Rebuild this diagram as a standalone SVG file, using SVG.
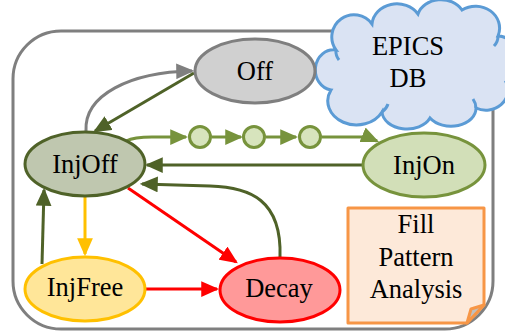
<svg xmlns="http://www.w3.org/2000/svg" width="505" height="331" viewBox="0 0 505 331">
<style>
text{font-family:"Liberation Serif","DejaVu Serif",serif;font-size:26.5px;fill:#000;text-anchor:middle}
.c{fill:none;stroke-width:3}
</style>
<defs>
<marker id="aGray" markerUnits="userSpaceOnUse" markerWidth="18" markerHeight="16" viewBox="0 0 16 14" refX="14" refY="7" orient="auto"><path d="M0,0L16,7L0,14Z" fill="#7f7f7f"/></marker>
<marker id="aDark" markerUnits="userSpaceOnUse" markerWidth="18" markerHeight="16" viewBox="0 0 16 14" refX="14" refY="7" orient="auto"><path d="M0,0L16,7L0,14Z" fill="#4f6228"/></marker>
<marker id="aGreen" markerUnits="userSpaceOnUse" markerWidth="18" markerHeight="16" viewBox="0 0 16 14" refX="14" refY="7" orient="auto"><path d="M0,0L16,7L0,14Z" fill="#77933c"/></marker>
<marker id="aRed" markerUnits="userSpaceOnUse" markerWidth="18" markerHeight="16" viewBox="0 0 16 14" refX="14" refY="7" orient="auto"><path d="M0,0L16,7L0,14Z" fill="#ff0000"/></marker>
<marker id="aYel" markerUnits="userSpaceOnUse" markerWidth="18" markerHeight="16" viewBox="0 0 16 14" refX="14" refY="7" orient="auto"><path d="M0,0L16,7L0,14Z" fill="#ffc000"/></marker>
</defs>
<rect width="505" height="331" fill="#fff"/>
<g id="frame"><rect x="13" y="31" width="480" height="298" rx="48" fill="none" stroke="#7f7f7f" stroke-width="3"/></g>
<g id="epics-db">
<path d="M331,90 A18,20 0 0 1 336,50 A22,22 0 0 1 372,24 A25,22 0 0 1 418,14 A24,20 0 0 1 462,10 A24,22 0 0 1 498,36 A20,24 0 0 1 506,82 A22,20 0 0 1 476,108 A25,18 0 0 1 430,118 A25,18 0 0 1 382,112 A24,20 0 0 1 331,90 Z" fill="#dae3f3" stroke="#5b9bd5" stroke-width="3"/>
<path d="M336,50 A14,14 0 0 0 339,60 M382,112 A20,16 0 0 0 388,104 M476,108 A20,18 0 0 0 473,99 M498,36 A14,14 0 0 1 494,46" fill="none" stroke="#5b9bd5" stroke-width="3"/>
<text x="408" y="55">EPICS</text>
<text x="408" y="87">DB</text>
</g>
<g id="connectors">
<path class="c" d="M86,131 C84,95 130,72 192,71" stroke="#7f7f7f" marker-end="url(#aGray)"/>
<path class="c" d="M194,73 L95,131" stroke="#4f6228" marker-end="url(#aDark)"/>
<path class="c" d="M126,141 Q134,137 152,137 L186,137" stroke="#77933c" marker-end="url(#aGreen)"/>
<path class="c" d="M212,137 L241,137" stroke="#77933c" marker-end="url(#aGreen)"/>
<path class="c" d="M266,137 L296,137" stroke="#77933c" marker-end="url(#aGreen)"/>
<path class="c" d="M322,137 L362,137 Q370,138 377,141" stroke="#77933c" marker-end="url(#aGreen)"/>
<path class="c" d="M363,165 L147,165" stroke="#4f6228" marker-end="url(#aDark)"/>
<path class="c" d="M280,257 C282,200 250,187 210,186 L142,184" stroke="#4f6228" marker-end="url(#aDark)"/>
<path class="c" d="M128,188 L236,262" stroke="#ff0000" marker-end="url(#aRed)"/>
<path class="c" d="M85,197 L85,254" stroke="#ffc000" marker-end="url(#aYel)"/>
<path class="c" d="M42,264 L44,190" stroke="#4f6228" marker-end="url(#aDark)"/>
<path class="c" d="M145,289 L217,289" stroke="#ff0000" marker-end="url(#aRed)"/>
<circle cx="200" cy="137" r="10.5" fill="#d7e4bd" stroke="#77933c" stroke-width="3"/>
<circle cx="254" cy="137" r="10.5" fill="#d7e4bd" stroke="#77933c" stroke-width="3"/>
<circle cx="310" cy="137" r="10.5" fill="#d7e4bd" stroke="#77933c" stroke-width="3"/>
</g>
<g id="off"><ellipse cx="255" cy="71" rx="60" ry="32" fill="#d0d0d0" stroke="#7f7f7f" stroke-width="3"/><text x="255" y="80">Off</text></g>
<g id="injoff"><ellipse cx="85" cy="164" rx="60" ry="32" fill="#bfc7af" stroke="#4f6228" stroke-width="3"/><text x="85" y="173">InjOff</text></g>
<g id="injon"><ellipse cx="424" cy="165" rx="61" ry="32" fill="#d2dfb8" stroke="#77933c" stroke-width="3"/><text x="424" y="174">InjOn</text></g>
<g id="injfree"><ellipse cx="85" cy="289" rx="60" ry="32" fill="#ffe699" stroke="#ffc000" stroke-width="3"/><text x="85" y="296">InjFree</text></g>
<g id="decay"><ellipse cx="280" cy="290" rx="60" ry="32" fill="#ff9999" stroke="#ff0000" stroke-width="3"/><text x="279" y="297">Decay</text></g>
<g id="fill-pattern-analysis">
<path d="M348,208 H484 V305 L467,323 H348 Z" fill="#fde9d9" stroke="#f79646" stroke-width="3" stroke-linejoin="round"/>
<path d="M484,305 L471,309 L467,323 Z" fill="#bfbfbf" stroke="#f79646" stroke-width="3" stroke-linejoin="round"/>
<text x="416" y="233">Fill</text>
<text x="416" y="266">Pattern</text>
<text x="416" y="298">Analysis</text>
</g>
</svg>
